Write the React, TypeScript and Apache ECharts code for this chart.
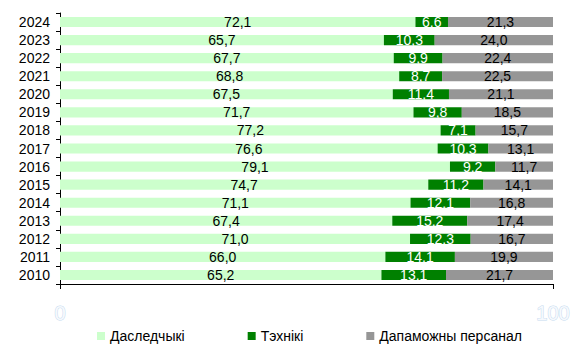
import React, { useEffect, useRef } from "react";
import * as echarts from "echarts";

const years = ["2010","2011","2012","2013","2014","2015","2016","2017","2018","2019","2020","2021","2022","2023","2024"];
const researchers = [65.2,66.0,71.0,67.4,71.1,74.7,79.1,76.6,77.2,71.7,67.5,68.8,67.7,65.7,72.1];
const technicians = [13.1,14.1,12.3,15.2,12.1,11.2,9.2,10.3,7.1,9.8,11.4,8.7,9.9,10.3,6.6];
const support = [21.7,19.9,16.7,17.4,16.8,14.1,11.7,13.1,15.7,18.5,21.1,22.5,22.4,24.0,21.3];
const seriesNames = ["Даследчыкі", "Тэхнікі", "Дапаможны персанал"];
const xTicks = [0, 100];

const fmt = (v: number) => v.toFixed(1).replace(".", ",");
const FONT = "'Liberation Sans', Arial, sans-serif";

export default function App() {
  const ref = useRef<HTMLDivElement>(null);
  useEffect(() => {
    const chart = echarts.init(ref.current!, null, { renderer: "svg" });
    const mk = (name: string, data: number[], color: string, labelColor: string) => ({
      name,
      type: "bar",
      stack: "all",
      data,
      barCategoryGap: "44%",
      itemStyle: { color },
      label: {
        show: true,
        position: "inside",
        color: labelColor,
        fontFamily: FONT,
        fontSize: 14,
        formatter: (p: any) => fmt(p.value),
      },
    });
    chart.setOption({
      animation: false,
      textStyle: { fontFamily: FONT },
      grid: { left: 60, right: 35, top: 13, bottom: 69, containLabel: false },
      legend: {
        data: seriesNames,
        left: 92,
        top: 324,
        itemWidth: 8,
        itemHeight: 8,
        itemGap: 63,
        icon: "rect",
        textStyle: { fontFamily: FONT, fontSize: 14, color: "#000" },
      },
      xAxis: {
        type: "value",
        min: xTicks[0],
        max: xTicks[1],
        interval: 100,
        axisLine: { show: true, lineStyle: { color: "#000" } },
        axisTick: { show: true, length: 5, lineStyle: { color: "#000" } },
        splitLine: { show: false },
        axisLabel: {
          margin: 19,
          fontSize: 20,
          color: "#f6f9fd",
          textBorderColor: "#c6dbef",
          textBorderWidth: 1,
          fontFamily: FONT,
        },
      },
      yAxis: {
        type: "category",
        data: years,
        axisLine: { show: true, lineStyle: { color: "#000" } },
        axisTick: { show: true, length: 4, interval: 0, lineStyle: { color: "#000" } },
        axisLabel: { color: "#000", fontSize: 14, margin: 10, interval: 0, fontFamily: FONT },
      },
      series: [
        mk(seriesNames[0], researchers, "#ccffcc", "#000"),
        mk(seriesNames[1], technicians, "#008000", "#fff"),
        mk(seriesNames[2], support, "#969696", "#000"),
      ],
    });
    return () => chart.dispose();
  }, []);
  return <div ref={ref} style={{ width: 588, height: 353, position: "absolute", left: 0, top: 0 }} />;
}
